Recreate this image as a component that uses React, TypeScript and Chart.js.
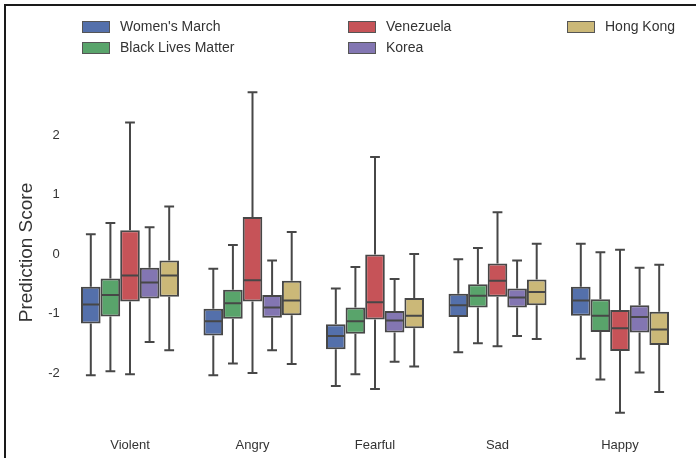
import React, { useEffect, useRef } from "react";
import { Chart, registerables } from "chart.js";

Chart.register(...registerables);

// Each tuple: [lower whisker, Q1, median, Q3, upper whisker]
const categories = ["Violent", "Angry", "Fearful", "Sad", "Happy"];
const seriesNames = ["Women's March", "Black Lives Matter", "Venezuela", "Korea", "Hong Kong"];
const womensMarch = [
  [-2.04, -1.17, -0.85, -0.55, 0.33],
  [-2.04, -1.37, -1.13, -0.92, -0.25],
  [-2.22, -1.6, -1.38, -1.18, -0.58],
  [-1.65, -1.06, -0.86, -0.67, -0.09],
  [-1.76, -1.04, -0.78, -0.55, 0.17],
];
const blackLivesMatter = [
  [-1.97, -1.05, -0.69, -0.41, 0.52],
  [-1.84, -1.09, -0.83, -0.6, 0.15],
  [-2.02, -1.34, -1.13, -0.9, -0.22],
  [-1.5, -0.9, -0.7, -0.51, 0.1],
  [-2.11, -1.31, -1.04, -0.76, 0.03],
];
const venezuela = [
  [-2.02, -0.8, -0.36, 0.4, 2.21],
  [-2.0, -0.8, -0.44, 0.62, 2.72],
  [-2.27, -1.1, -0.81, -0.01, 1.63],
  [-1.55, -0.72, -0.45, -0.16, 0.7],
  [-2.67, -1.63, -1.25, -0.94, 0.07],
];
const korea = [
  [-1.48, -0.75, -0.48, -0.23, 0.45],
  [-1.62, -1.07, -0.9, -0.69, -0.11],
  [-1.81, -1.32, -1.12, -0.96, -0.42],
  [-1.38, -0.9, -0.73, -0.58, -0.11],
  [-1.99, -1.32, -1.06, -0.86, -0.23],
];
const hongKong = [
  [-1.62, -0.72, -0.36, -0.11, 0.8],
  [-1.85, -1.03, -0.78, -0.45, 0.37],
  [-1.89, -1.25, -1.04, -0.74, 0.0],
  [-1.43, -0.86, -0.64, -0.43, 0.17],
  [-2.32, -1.53, -1.27, -0.97, -0.18],
];
const yTickValues = [-2, -1, 0, 1, 2];

const seriesData = [womensMarch, blackLivesMatter, venezuela, korea, hongKong];
const seriesColors = ["#5470ab", "#59a46b", "#c65358", "#8376b2", "#cbb878"];
const lineColor = "#474747";
const FONT = "'Liberation Sans', Arial, sans-serif";

const boxPlugin = {
  id: "boxWhiskers",
  afterDatasetsDraw(chart: any) {
    const ctx = chart.ctx;
    const y = chart.scales.y;
    ctx.save();
    ctx.strokeStyle = lineColor;
    ctx.lineWidth = 2;
    chart.data.datasets.forEach((ds: any, di: number) => {
      const meta = chart.getDatasetMeta(di);
      meta.data.forEach((el: any, i: number) => {
        const s = ds.stats[i];
        const x = el.x;
        const w = el.width;
        const lo = y.getPixelForValue(s[0]);
        const q1 = y.getPixelForValue(s[1]);
        const med = y.getPixelForValue(s[2]);
        const q3 = y.getPixelForValue(s[3]);
        const hi = y.getPixelForValue(s[4]);
        ctx.beginPath();
        ctx.moveTo(x, q3);
        ctx.lineTo(x, hi);
        ctx.moveTo(x, q1);
        ctx.lineTo(x, lo);
        ctx.moveTo(x - w / 4, hi);
        ctx.lineTo(x + w / 4, hi);
        ctx.moveTo(x - w / 4, lo);
        ctx.lineTo(x + w / 4, lo);
        ctx.moveTo(x - w / 2 + 1, med);
        ctx.lineTo(x + w / 2 - 1, med);
        ctx.stroke();
      });
    });
    ctx.restore();
  },
};

const legendPlugin = {
  id: "gridLegend",
  afterDraw(chart: any) {
    const ctx = chart.ctx;
    const colX = [82, 348, 567];
    const rowY = [27, 48];
    ctx.save();
    // frame
    ctx.fillStyle = "#1a1a1a";
    ctx.fillRect(4, 4, 2, 454);
    ctx.fillRect(4, 4, 692, 2);
    ctx.font = `14px ${FONT}`;
    ctx.textBaseline = "middle";
    seriesNames.forEach((name, i) => {
      const col = Math.floor(i / 2);
      const row = i % 2;
      const x = colX[col];
      const yy = rowY[row];
      ctx.fillStyle = seriesColors[i];
      ctx.fillRect(x, yy - 6, 28, 12);
      ctx.strokeStyle = "#555";
      ctx.lineWidth = 1;
      ctx.strokeRect(x + 0.5, yy - 5.5, 27, 11);
      ctx.fillStyle = "#333";
      ctx.fillText(name, x + 38, yy);
    });
    ctx.restore();
  },
};

export default function App() {
  const ref = useRef<HTMLCanvasElement>(null);
  useEffect(() => {
    document.body.style.margin = "0";
    const canvas = ref.current!;
    const chart = new Chart(canvas, {
      type: "bar",
      data: {
        labels: categories,
        datasets: seriesData.map((d, i) => ({
          label: seriesNames[i],
          data: d.map((s) => [s[1], s[3]]),
          stats: d,
          backgroundColor: seriesColors[i],
          borderColor: lineColor,
          borderWidth: 2,
          borderSkipped: false,
          categoryPercentage: 0.8,
          barPercentage: 1.0,
        })) as any,
      },
      options: {
        responsive: false,
        animation: false,
        devicePixelRatio: 1,
        layout: { padding: { left: 0, right: 14.75, top: 75.5, bottom: 0 } },
        plugins: {
          legend: { display: false },
          tooltip: { enabled: false },
        },
        scales: {
          x: {
            grid: { display: false, drawTicks: false },
            border: { display: false },
            ticks: { color: "#333", font: { family: FONT, size: 13 }, padding: 8 },
            afterFit(scale: any) {
              scale.height = 458 - 429.5 - 0;
            },
          },
          y: {
            min: -2.95,
            max: 3.0,
            grid: { display: false, drawTicks: false },
            border: { display: false },
            ticks: { color: "#333", font: { family: FONT, size: 13 }, padding: 9 },
            afterBuildTicks(scale: any) {
              scale.ticks = yTickValues.map((v) => ({ value: v }));
            },
            afterFit(scale: any) {
              scale.width = 68.75;
            },
            title: {
              display: true,
              text: "Prediction Score",
              color: "#333",
              font: { family: FONT, size: 19 },
              padding: { top: 15.5, bottom: 0 },
            },
          },
        },
      } as any,
      plugins: [boxPlugin, legendPlugin],
    });
    return () => chart.destroy();
  }, []);
  return <canvas ref={ref} width={696} height={458} style={{ display: "block" }} />;
}
